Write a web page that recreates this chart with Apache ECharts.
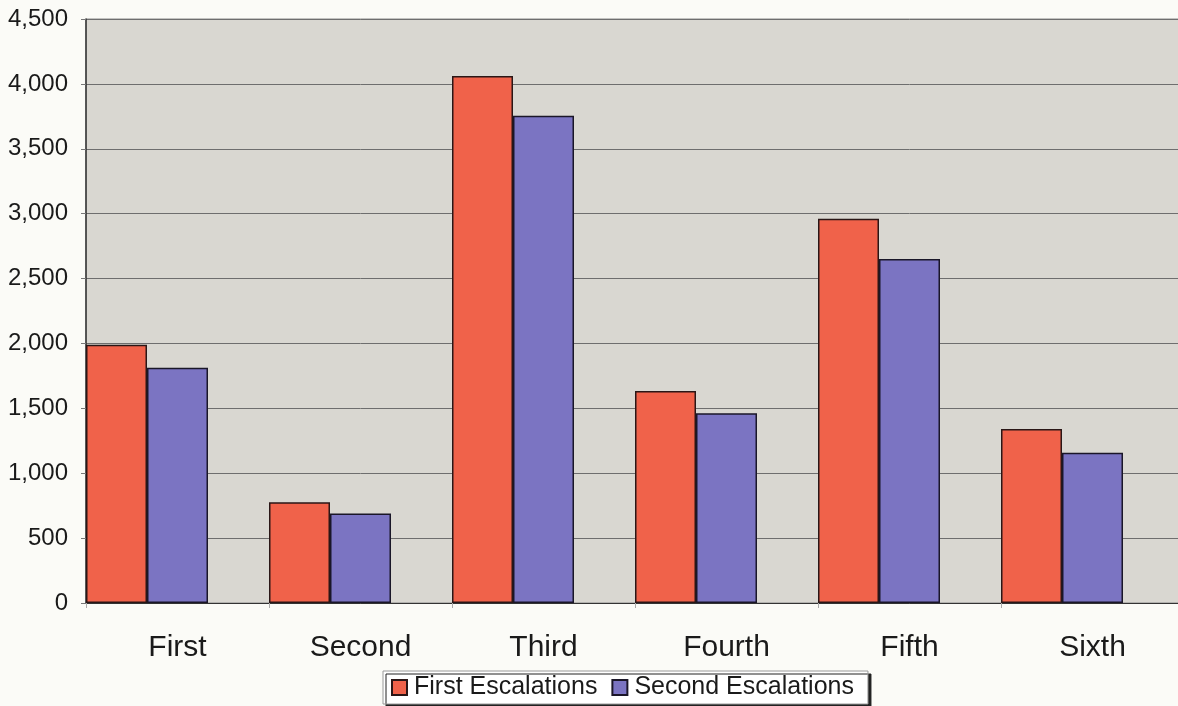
<!DOCTYPE html>
<html>
<head>
<meta charset="utf-8">
<script src="https://cdn.jsdelivr.net/npm/echarts@6/dist/echarts.min.js"></script>
<style>
  html, body { margin: 0; padding: 0; background: #fbfbf7; overflow: hidden; }
  #chart { width: 1190px; height: 706px; }
</style>
</head>
<body>
<div id="chart"></div>
<script>
// Escalations per round
const categories = ['First', 'Second', 'Third', 'Fourth', 'Fifth', 'Sixth'];
const firstEscalations = [1990, 776, 4060, 1634, 2960, 1340];
const secondEscalations = [1813, 690, 3755, 1462, 2651, 1157];
// empty third slot in each cluster keeps the bars on the left of their band
const reservedSlot = [null, null, null, null, null, null];
const yTicks = { min: 0, max: 4500, step: 500 };

const font = '"Liberation Sans", Arial, sans-serif';
const chart = echarts.init(document.getElementById('chart'), null, { renderer: 'canvas' });

chart.setOption({
  backgroundColor: '#fbfbf7',
  animation: false,
  grid: {
    left: 86, top: 19, right: 6, bottom: 103,
    show: true,
    backgroundColor: '#d9d7d1',
    borderColor: '#8a8a8a',
    borderWidth: 1
  },
  legend: {
    data: ['First Escalations', 'Second Escalations'],
    left: 383, top: 671,
    padding: [4, 14, 4, 8],
    itemGap: 14,
    itemWidth: 15, itemHeight: 15,
    icon: 'rect',
    backgroundColor: '#ffffff',
    borderColor: '#9a9a9a',
    borderWidth: 1,
    shadowColor: '#222',
    shadowOffsetX: 3,
    shadowOffsetY: 3,
    shadowBlur: 0,
    textStyle: { fontFamily: font, fontSize: 25, color: '#1a1a1a', padding: [0, 0, 0, 2] }
  },
  xAxis: {
    type: 'category',
    data: categories,
    axisLine: { lineStyle: { color: '#333', width: 1 } },
    axisTick: { show: true, length: 5, lineStyle: { color: '#aaa' } },
    axisLabel: { fontFamily: font, fontSize: 30, color: '#1a1a1a', margin: 30 }
  },
  yAxis: {
    type: 'value',
    min: yTicks.min, max: yTicks.max, interval: yTicks.step,
    axisLine: { show: true, lineStyle: { color: '#333', width: 1.5 } },
    axisTick: { show: true, length: 5, lineStyle: { color: '#777' } },
    splitLine: { lineStyle: { color: '#6e6e6e', width: 1 } },
    axisLabel: {
      fontFamily: font, fontSize: 24, color: '#1a1a1a', margin: 18,
      formatter: v => v.toLocaleString('en-US')
    }
  },
  series: [
    {
      name: 'First Escalations', type: 'bar', data: firstEscalations,
      barGap: 0, barCategoryGap: 0,
      itemStyle: { color: '#f0624a', borderColor: '#2a1616', borderWidth: 1.5 }
    },
    {
      name: 'Second Escalations', type: 'bar', data: secondEscalations,
      barGap: 0, barCategoryGap: 0,
      itemStyle: { color: '#7b74c2', borderColor: '#1a1628', borderWidth: 1.5 }
    },
    {
      name: 'slot', type: 'bar', data: reservedSlot,
      barGap: 0, barCategoryGap: 0
    }
  ]
});
</script>
</body>
</html>
